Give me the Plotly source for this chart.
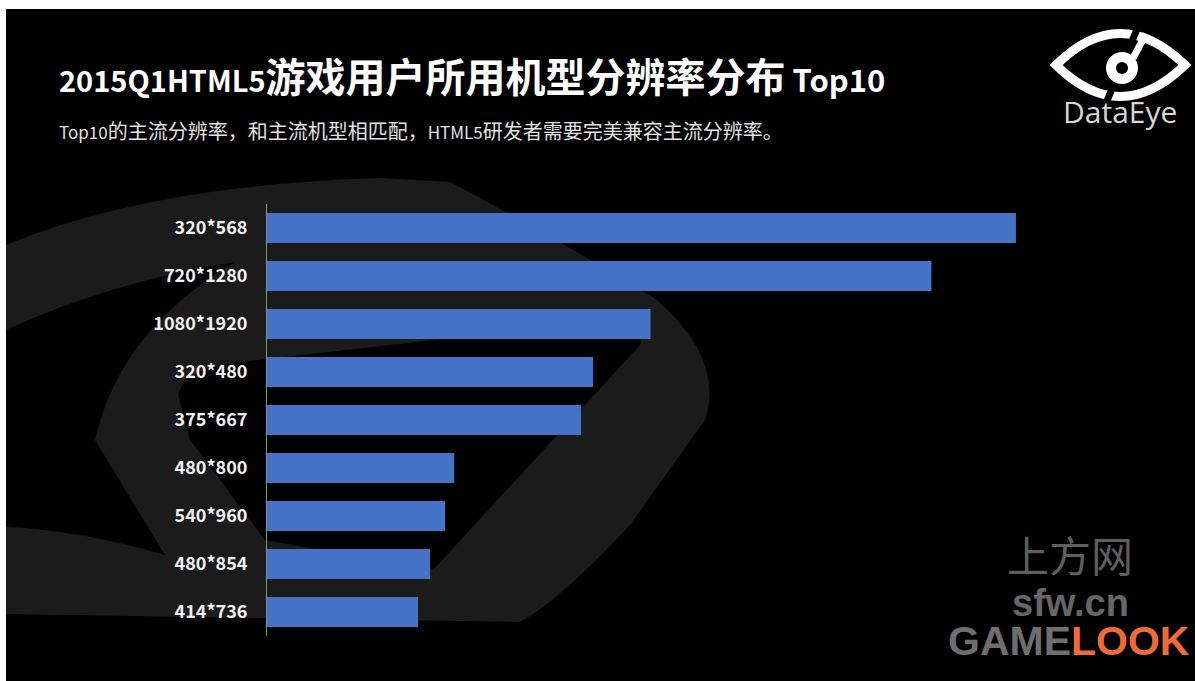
import re
import plotly.graph_objects as go

W, H = 1195, 681

# ---- data -------------------------------------------------------------
resolutions = ["320*568", "720*1280", "1080*1920", "320*480", "375*667",
               "480*800", "540*960", "480*854", "414*736"]
shares = [24.8, 22.0, 12.7, 10.8, 10.4, 6.2, 5.9, 5.4, 5.0]

title_parts = ["2015Q1HTML5", "游戏用户所用机型分辨率分布", " Top10"]
subtitle_parts = ["Top10", "的主流分辨率，和主流机型相匹配，", "HTML5",
                  "研发者需要完美兼容主流分辨率。"]
brand_text = "DataEye"
watermark_cn = "上方网"
watermark_url = "sfw.cn"
watermark_game, watermark_look = "GAME", "LOOK"

CJK = "Noto Sans CJK SC"
BAR_BLUE = "#4472C4"
DECO = "#1b1b1b"


def to_paper(path_px):
    """Convert an SVG path written in page pixels into paper coordinates."""
    out = []
    for tok in re.findall(r"[A-Za-z]|-?\d+\.?\d*,-?\d+\.?\d*", path_px):
        if tok.isalpha():
            out.append(tok)
        else:
            x, y = (float(v) for v in tok.split(","))
            out.append(f"{x / W:.5f},{1 - y / H:.5f}")
    return " ".join(out)


def deco(path_px, fill=None, line=None, width=0):
    return dict(type="path", xref="paper", yref="paper", layer="below",
                path=to_paper(path_px),
                fillcolor=fill if fill else "rgba(0,0,0,0)",
                line=dict(color=line if line else "rgba(0,0,0,0)", width=width))


def sized(text, px):
    return f"<span style='font-size:{px}px'>{text}</span>"


shapes = [
    # black slide background
    dict(type="rect", xref="paper", yref="paper", layer="below",
         x0=6 / W, x1=1, y0=0, y1=1 - 9 / H,
         fillcolor="#000000", line=dict(width=0)),
    # faint oversized eye emblem behind the bars
    deco("M 6,245 Q 150,185 380,178 L 450,182 Q 560,240 657,300 "
         "Q 725,360 705,420 L 630,525 Q 560,600 520,622 L 6,614 Z", fill=DECO),
    deco("M 6,330 Q 110,282 235,262 Q 120,330 95,440 L 165,555 "
         "Q 80,530 6,527 Z", fill="#000000"),
    deco("M 178,395 Q 185,368 240,362 L 520,330 Q 650,312 640,345 "
         "L 433,570 L 265,540 L 190,440 Z", fill="#000000"),
    # DataEye logo, top right
    deco("M 1056,65 Q 1120,2 1185,65 Q 1120,128 1056,65 Z",
         line="#ffffff", width=9),
    deco("M 1140,22 L 1104,108", line="#000000", width=7),
    dict(type="circle", xref="paper", yref="paper", layer="below",
         x0=1106 / W, x1=1138 / W, y0=1 - 84 / H, y1=1 - 52 / H,
         fillcolor="#ffffff", line=dict(width=0)),
    dict(type="circle", xref="paper", yref="paper", layer="below",
         x0=1116 / W, x1=1128 / W, y0=1 - 74 / H, y1=1 - 62 / H,
         fillcolor="#000000", line=dict(width=0)),
    deco("M 1133,58 L 1146,34", line="#ffffff", width=7),
]

fig = go.Figure(
    go.Bar(
        x=shares,
        y=resolutions,
        orientation="h",
        marker=dict(color=BAR_BLUE, line=dict(width=0)),
        hovertemplate="%{y}: %{x}<extra></extra>",
    )
)

title_html = "<b>" + sized(title_parts[0], 29) + title_parts[1] + \
    sized(title_parts[2], 31) + "</b>"
subtitle_html = sized(subtitle_parts[0], 17) + subtitle_parts[1] + \
    sized(subtitle_parts[2], 17) + subtitle_parts[3]

annotations = [
    dict(text=title_html, x=57 / W, y=1 - 75 / H,
         xref="paper", yref="paper", xanchor="left", yanchor="middle",
         showarrow=False, font=dict(family=CJK, size=40, color="#ffffff")),
    dict(text=subtitle_html, x=57 / W, y=1 - 131 / H,
         xref="paper", yref="paper", xanchor="left", yanchor="middle",
         showarrow=False, font=dict(family=CJK, size=20, color="#e2e2e2")),
    dict(text=brand_text, x=1120 / W, y=1 - 112 / H,
         xref="paper", yref="paper", xanchor="center", yanchor="middle",
         showarrow=False, font=dict(family="Open Sans", size=30, color="#d6d6d6")),
    # watermark, bottom right
    dict(text=watermark_cn, x=1070 / W, y=1 - 553 / H,
         xref="paper", yref="paper", xanchor="center", yanchor="middle",
         showarrow=False, font=dict(family=CJK, size=42, color="#5e5e5e")),
    dict(text=f"<b>{watermark_url}</b>", x=1070 / W, y=1 - 603 / H,
         xref="paper", yref="paper", xanchor="center", yanchor="middle",
         showarrow=False, font=dict(family="Liberation Sans", size=38, color="#666666")),
    dict(text=f"<b><span style='color:#6e6e6e'>{watermark_game}</span>"
              f"<span style='color:#f06a35'>{watermark_look}</span></b>",
         x=1192 / W, y=1 - 641 / H,
         xref="paper", yref="paper", xanchor="right", yanchor="middle",
         showarrow=False, font=dict(family="Liberation Sans", size=41)),
]

fig.update_layout(
    width=W, height=H,
    margin=dict(l=0, r=0, t=0, b=0),
    paper_bgcolor="#ffffff",
    plot_bgcolor="rgba(0,0,0,0)",
    showlegend=False,
    bargap=0.375,
    shapes=shapes,
    annotations=annotations,
    xaxis=dict(domain=[267 / W, (267 + 28 * 30.2) / W], range=[0, 28],
               visible=False, fixedrange=True),
    yaxis=dict(domain=[1 - 636 / H, 1 - 204 / H],
               type="category", categoryorder="array", categoryarray=resolutions,
               range=[len(resolutions) - 0.5, -0.5],
               showline=True, linecolor="#8c8c8c", linewidth=1,
               showgrid=False, zeroline=False, ticks="",
               tickmode="array", tickvals=resolutions,
               ticktext=[f"<b>{r}</b>" for r in resolutions],
               ticklabelstandoff=15,
               tickfont=dict(family=CJK, size=18, color="#f2f2f2"),
               fixedrange=True),
)

fig.write_html("out.html", config={"displayModeBar": False})
